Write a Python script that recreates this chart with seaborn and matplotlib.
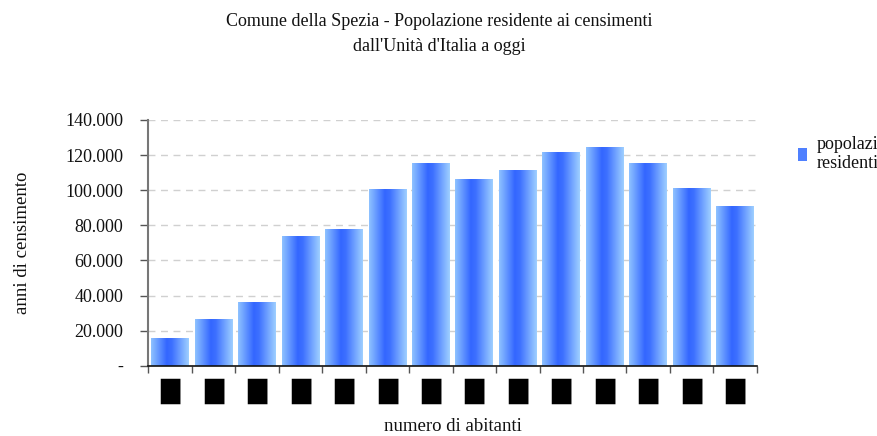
import numpy as np
import matplotlib
matplotlib.use('Agg')
import matplotlib.pyplot as plt
from matplotlib.colors import LinearSegmentedColormap
from matplotlib.ticker import FuncFormatter
import seaborn as sns

# censimenti (the labels render as solid blocks in the original)
years = ['1861', '1871', '1881', '1901', '1911', '1921', '1931',
         '1936', '1951', '1961', '1971', '1981', '1991', '2001']
population = [15800, 26700, 36600, 73900, 77800, 100500, 115300,
              106400, 111300, 121600, 124500, 115300, 101200, 91200]
tick_labels = ['\u2588'] * len(years)

title = "Comune della Spezia - Popolazione residente ai censimenti\ndall'Unità d'Italia a oggi"
xlabel = "numero di abitanti"
ylabel = "anni di censimento"
series_name = "popolazione\nresidenti"

sns.set_theme(style='white')
plt.rcParams['font.family'] = ['Liberation Serif', 'DejaVu Serif']

fig = plt.figure(figsize=(8.78, 4.36), dpi=100)
ax = fig.add_axes([0.169, 0.161, 0.693, 0.564])

sns.barplot(x=years, y=population, color='#3366ff', width=0.87,
            ax=ax, zorder=2, label=series_name)

# horizontal gradient fill, clipped to every bar
grad_cmap = LinearSegmentedColormap.from_list(
    'bar', [(0.0, '#8fc3ff'), (0.42, '#3366ff'), (0.55, '#3d70ff'), (1.0, '#9fd0ff')])
grad = np.linspace(0, 1, 256).reshape(1, -1)
for p in ax.patches:
    x0, y0 = p.get_x(), p.get_y()
    w, h = p.get_width(), p.get_height()
    im = ax.imshow(grad, cmap=grad_cmap, aspect='auto', extent=[x0, x0 + w, y0, y0 + h],
                   zorder=2, interpolation='bilinear')
    im.set_clip_path(p)
    p.set_facecolor('none')
    p.set_edgecolor('none')

ax.set_xlim(-0.5, len(years) - 0.5)
ax.set_ylim(0, 140000)
ax.set_yticks(np.arange(0, 140001, 20000))
ax.yaxis.set_major_formatter(FuncFormatter(
    lambda v, _: '-' if v == 0 else f'{int(v):,}'.replace(',', '.')))

# tick marks between categories, labels under each bar
ax.set_xticks(np.arange(-0.5, len(years), 1.0))
ax.set_xticklabels([])
ax.set_xticks(np.arange(len(years)), minor=True)
ax.set_xticklabels(tick_labels, minor=True, family='DejaVu Sans', fontsize=18, color='black')
ax.tick_params(axis='x', which='major', length=5, width=1, color='#555555', direction='out', bottom=True)
ax.tick_params(axis='x', which='minor', length=0, pad=9)
ax.tick_params(axis='y', length=6, width=1, color='#555555', direction='out', left=True,
               labelsize=13, pad=12, labelcolor='#111111')

ax.grid(axis='y', linestyle=(0, (5, 4)), color='#d0d0d0', linewidth=1, zorder=0)
ax.set_axisbelow(True)
for s in ['top', 'right']:
    ax.spines[s].set_visible(False)
ax.spines['left'].set_color('#777777')
ax.spines['left'].set_linewidth(1.5)
ax.spines['bottom'].set_color('#111111')
ax.spines['bottom'].set_linewidth(1.2)

ax.set_xlabel(xlabel, fontsize=13.5, labelpad=10, color='#111111')
ax.set_ylabel(ylabel, fontsize=13.5, labelpad=25, color='#111111')
fig.text(0.5, 0.922, title, ha='center', va='center', fontsize=13, linespacing=1.55,
         color='#111111')

handle = plt.Rectangle((0, 0), 1, 1, facecolor='#4f80ff', edgecolor='none')
ax.legend([handle], [series_name], loc='upper left', bbox_to_anchor=(1.055, 0.965),
          frameon=False, fontsize=13, handlelength=0.55, handleheight=0.75,
          handletextpad=0.5, borderaxespad=0, labelcolor='#111111')

fig.savefig('out.png', dpi=100)
